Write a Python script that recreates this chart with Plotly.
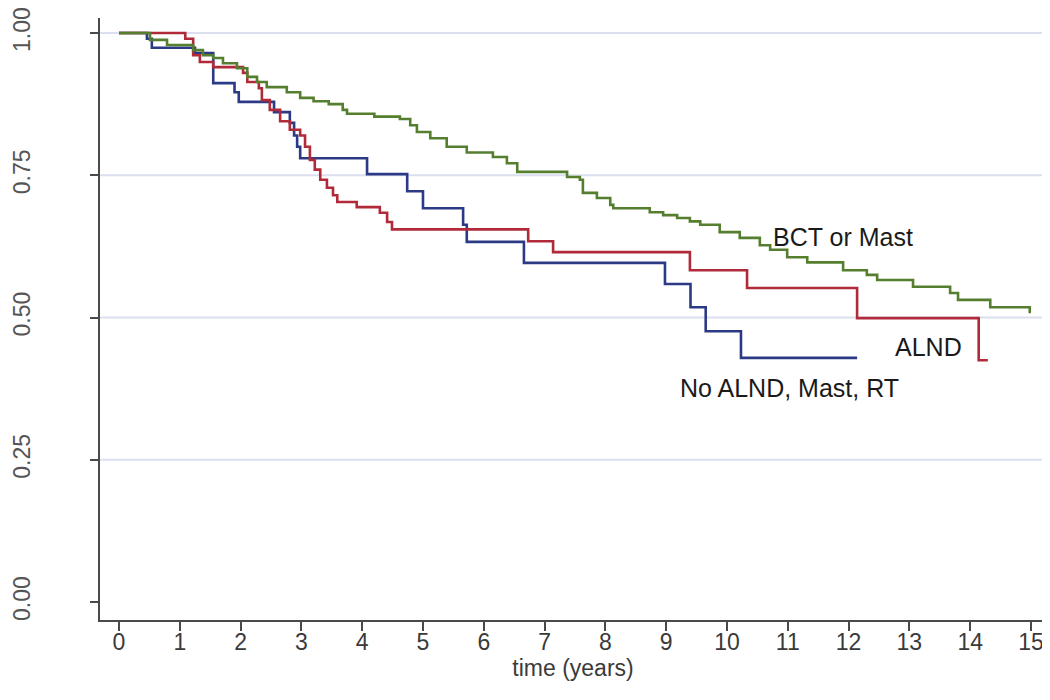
import plotly.graph_objects as go

# ---- data (time in years, survival probability) ----
bct_time = [0, 0.51, 0.79, 1.22, 1.38, 1.55, 1.71, 1.94, 2.11, 2.27, 2.43, 2.76, 2.98,
            3.20, 3.45, 3.68, 3.75, 4.20, 4.62, 4.79, 4.90, 5.12, 5.39, 5.72, 6.15, 6.38, 6.55, 7.37, 7.58,
            7.63, 7.86, 8.08, 8.13, 8.73, 8.95, 9.18, 9.39, 9.56, 9.88, 10.21, 10.54,
            10.71, 10.99, 11.32, 11.91, 12.30, 12.47, 13.06, 13.67, 13.80, 14.33, 14.98, 15.0]
bct_surv = [1.0, 0.988, 0.979, 0.970, 0.961, 0.956, 0.947, 0.938, 0.923, 0.914, 0.905, 0.896, 0.886,
            0.880, 0.875, 0.865, 0.858, 0.853, 0.849, 0.838, 0.826, 0.815, 0.800, 0.790, 0.782, 0.771, 0.756, 0.747, 0.742,
            0.719, 0.710, 0.698, 0.692, 0.685, 0.680, 0.675, 0.669, 0.663, 0.650, 0.640, 0.627,
            0.619, 0.606, 0.597, 0.583, 0.575, 0.566, 0.554, 0.543, 0.531, 0.518, 0.510, 0.510]

alnd_time = [0, 1.09, 1.22, 1.33, 1.55, 2.04, 2.11, 2.30, 2.35, 2.48, 2.65, 2.81, 2.98,
             3.06, 3.14, 3.22, 3.31, 3.42, 3.52, 3.59, 3.91, 4.29, 4.41, 4.49, 6.73, 7.14,
             9.39, 10.33, 12.14, 14.14, 14.29]
alnd_surv = [1.0, 0.990, 0.961, 0.949, 0.940, 0.930, 0.914, 0.903, 0.882, 0.865, 0.845, 0.830, 0.820,
             0.800, 0.777, 0.760, 0.742, 0.728, 0.715, 0.703, 0.694, 0.684, 0.668, 0.655, 0.634, 0.615,
             0.583, 0.552, 0.499, 0.425, 0.425]

noalnd_time = [0, 0.46, 0.54, 1.25, 1.55, 1.90, 1.97, 2.55, 2.81, 2.88, 2.93, 2.98, 4.08,
               4.74, 5.00, 5.66, 5.72, 6.66, 8.98, 9.40, 9.65, 10.23, 12.14]
noalnd_surv = [1.0, 0.990, 0.974, 0.965, 0.912, 0.896, 0.879, 0.861, 0.842, 0.820, 0.800, 0.780, 0.752,
               0.722, 0.692, 0.663, 0.633, 0.596, 0.559, 0.518, 0.476, 0.429, 0.429]

x_ticks = list(range(0, 16))
y_ticks = [0.0, 0.25, 0.5, 0.75, 1.0]
y_tick_text = ["0.00", "0.25", "0.50", "0.75", "1.00"]

labels = ["BCT or Mast", "ALND", "No ALND, Mast, RT"]

# ---- figure ----
FONT = "Liberation Sans, Arial, sans-serif"
GREEN = "#557f2f"
RED = "#b02a3a"
BLUE = "#2c3a86"
GRID = "#dcdff0"
AXIS = "#4a4a4a"

fig = go.Figure()
for t, s, c, name in [(noalnd_time, noalnd_surv, BLUE, labels[2]),
                      (alnd_time, alnd_surv, RED, labels[1]),
                      (bct_time, bct_surv, GREEN, labels[0])]:
    fig.add_trace(go.Scatter(x=t, y=s, mode="lines", line=dict(color=c, width=2.6, shape="hv"),
                             name=name, showlegend=False, hoverinfo="skip"))

# horizontal gridlines (except at 0)
for yv in y_ticks:
    if yv > 0:
        fig.add_shape(type="line", xref="paper", x0=0, x1=0.998, yref="y", y0=yv, y1=yv,
                      line=dict(color=GRID, width=2), layer="below")

fig.add_annotation(x=11.9, y=0.641, text=labels[0], showarrow=False,
                   font=dict(family=FONT, size=25, color="#1a1a1a"))
fig.add_annotation(x=13.32, y=0.448, text=labels[1], showarrow=False,
                   font=dict(family=FONT, size=25, color="#1a1a1a"))
fig.add_annotation(x=11.02, y=0.376, text=labels[2], showarrow=False,
                   font=dict(family=FONT, size=25, color="#1a1a1a"))

fig.update_layout(
    width=1042, height=692,
    margin=dict(l=92, r=4, t=10, b=80),
    paper_bgcolor="white", plot_bgcolor="white",
    font=dict(family=FONT, color="#333333"),
    xaxis=dict(range=[-0.3125, 15.247], tickvals=x_ticks, ticktext=[str(v) for v in x_ticks],
               automargin=False, ticklabeloverflow="allow",
               showgrid=False, zeroline=False, showline=True, linecolor=AXIS, linewidth=2,
               ticks="outside", ticklen=9, tickwidth=1.5, tickcolor=AXIS,
               ticklabelstandoff=-9,
               tickfont=dict(family=FONT, size=23, color="#3a3a3a"),
               title=dict(text="time (years)", font=dict(family=FONT, size=23, color="#3a3a3a"),
                          standoff=0)),
    yaxis=dict(range=[-0.0316, 1.0264], tickvals=y_ticks, ticktext=y_tick_text,
               automargin=False, ticklabeloverflow="allow",
               showgrid=False, zeroline=False, showline=True, linecolor=AXIS, linewidth=2,
               ticks="outside", ticklen=8, tickwidth=1.5, tickcolor=AXIS, tickangle=-90,
               ticklabelstandoff=51,
               tickfont=dict(family=FONT, size=23, color="#555555")),
)

fig.write_html("out.html")
